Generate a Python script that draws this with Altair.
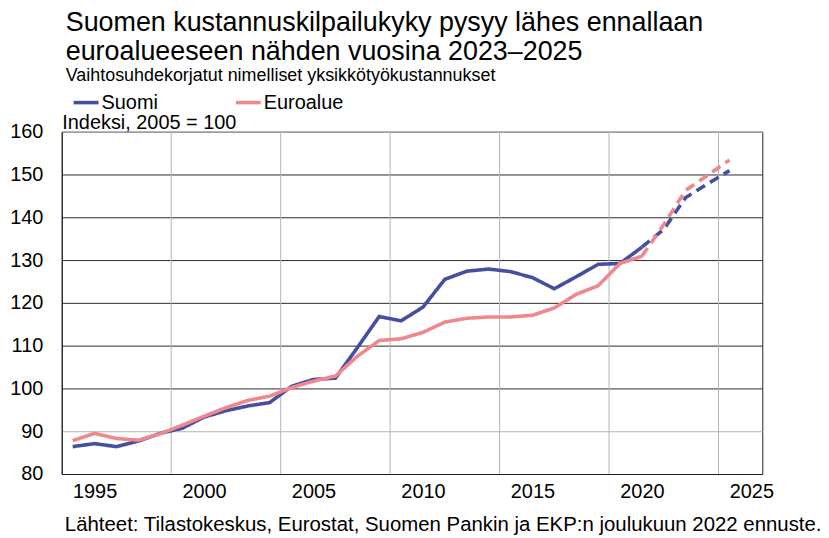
import altair as alt
import pandas as pd

# --- data ---
years = list(range(1994, 2025))
suomi = [86.4, 87.1, 86.4, 87.7, 89.5, 90.7, 93.3, 94.8, 95.9, 96.7,
         100.5, 102.1, 102.4, 109.5, 116.8, 115.8, 119.0, 125.5, 127.4, 127.9,
         127.3, 125.9, 123.3, 126.1, 129.0, 129.2, 133.0, 137.2, 144.6, 147.8,
         150.9]
euro = [87.8, 89.5, 88.3, 87.9, 89.4, 91.4, 93.5, 95.5, 97.2, 98.2,
        100.2, 101.7, 102.9, 107.5, 111.2, 111.6, 113.1, 115.5, 116.4, 116.7,
        116.7, 117.1, 118.8, 122.0, 124.0, 129.2, 130.9, 138.3, 146.3, 149.8,
        153.4]
forecast_start = 2020
series_names = ["Suomi", "Euroalue"]
part_names = ["toteutunut", "ennuste"]
x_labels = [1995, 2000, 2005, 2010, 2015, 2020, 2025]
x_grid = [1998.5, 2003.5, 2008.5, 2013.5, 2018.5, 2023.5]
y_ticks = [80, 90, 100, 110, 120, 130, 140, 150, 160]

title_lines = ["Suomen kustannuskilpailukyky pysyy lähes ennallaan",
               "euroalueeseen nähden vuosina 2023–2025"]
subtitle = "Vaihtosuhdekorjatut nimelliset yksikkötyökustannukset"
y_title = "Indeksi, 2005 = 100"
source = "Lähteet: Tilastokeskus, Eurostat, Suomen Pankin ja EKP:n joulukuun 2022 ennuste."

BLUE = "#454f9f"
PINK = "#f0878f"
FONT = "Liberation Sans"

rows = []
for name, vals in zip(series_names, [suomi, euro]):
    for y, v in zip(years, vals):
        if y <= forecast_start:
            rows.append({"vuosi": y, "arvo": v, "sarja": name, "osa": part_names[0]})
        if y >= forecast_start:
            rows.append({"vuosi": y, "arvo": v, "sarja": name, "osa": part_names[1]})
df = pd.DataFrame(rows)

xscale = alt.Scale(domain=[1993.5, 2025.5], nice=False, zero=False)
xaxis = alt.Axis(values=x_labels, format="d", labelFontSize=20,
                 labelFont=FONT, labelColor="black", ticks=False,
                 grid=False, domainColor="#222", labelPadding=8,
                 title=source, titleFont=FONT, titleFontSize=20.5,
                 titleFontWeight="normal", titleColor="black",
                 titleAlign="right", titleAnchor="end",
                 titleBaseline="alphabetic", titleX=763, titleY=56.5)

grid = alt.Chart(pd.DataFrame({"vuosi": x_grid})).mark_rule(
    color="#b4b4b4", strokeWidth=1
).encode(x=alt.X("vuosi:Q", scale=xscale, axis=xaxis))

lines = alt.Chart(df).mark_line(strokeWidth=3.6).encode(
    x=alt.X("vuosi:Q", scale=xscale, axis=xaxis),
    y=alt.Y("arvo:Q", scale=alt.Scale(domain=[80, 160], nice=False, zero=False),
            axis=alt.Axis(values=y_ticks, labelFontSize=20, labelFont=FONT,
                          labelColor="black", ticks=False, domainColor="#222",
                          labelPadding=19,
                          gridColor={"condition": {"test": "datum.value === 90 || datum.value === 160",
                                                   "value": "#b4b4b4"},
                                     "value": "#2a2a2a"},
                          gridWidth=1,
                          title=y_title, titleFont=FONT, titleFontSize=20,
                          titleFontWeight="normal", titleColor="black",
                          titleAngle=0, titleAlign="left", titleBaseline="alphabetic",
                          titleX=0, titleY=-3)),
    color=alt.Color("sarja:N",
                    scale=alt.Scale(domain=series_names, range=[BLUE, PINK]),
                    legend=alt.Legend(title=None, orient="none", legendX=10, legendY=-44,
                                      direction="horizontal", columns=2,
                                      symbolType="stroke", symbolSize=625,
                                      symbolStrokeWidth=3.6, labelFontSize=20,
                                      labelFont=FONT, labelColor="black",
                                      labelOffset=1, columnPadding=70, padding=0)),
    strokeDash=alt.StrokeDash("osa:N",
                              scale=alt.Scale(domain=part_names, range=[[1, 0], [10, 6]]),
                              legend=None),
)

chart = alt.layer(grid, lines).properties(
    width=704, height=344,
    padding={"left": 54, "top": 123, "right": 59, "bottom": 63},
    autosize=alt.AutoSizeParams(type="none"),
    title=alt.TitleParams(text=title_lines, subtitle=subtitle, anchor="start",
                          frame="group", font=FONT, fontSize=27, fontWeight="normal",
                          color="black", lineHeight=29, subtitleFont=FONT,
                          subtitleFontSize=18, subtitleColor="black",
                          subtitlePadding=1, dx=4, dy=5, offset=7),
).configure_view(stroke="#222", strokeWidth=1)

chart.save("out.html", embed_options={"renderer": "svg", "actions": False})
